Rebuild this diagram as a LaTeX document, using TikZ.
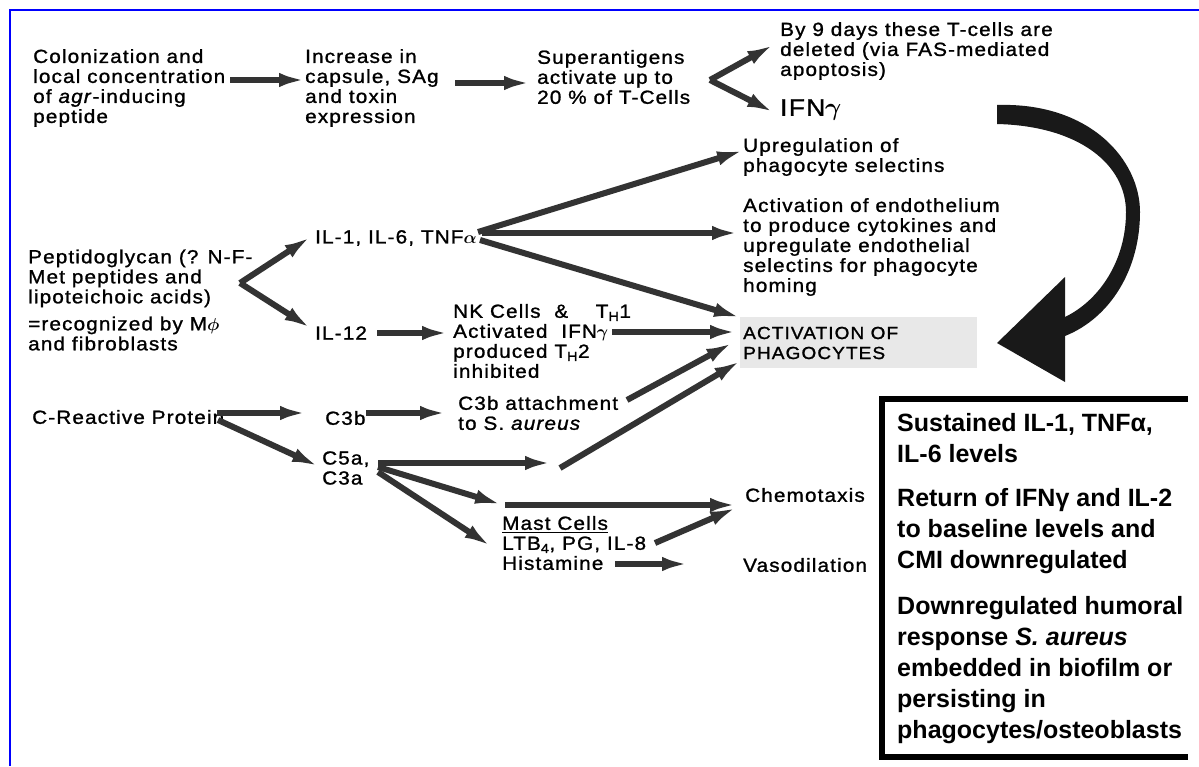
\documentclass[tikz,border=0pt]{standalone}
\usepackage{amsmath}
\usepackage{fontspec}
\setmainfont[FakeStretch=1.09,LetterSpace=6,FakeBold=1.2]{Liberation Sans}
\newfontfamily\bxfont{Liberation Sans}
\usetikzlibrary{arrows.meta}
\begin{document}
\begin{tikzpicture}[x=1pt,y=-1pt,
  txt/.style={anchor=west, inner sep=0pt, align=left, font=\fontsize{19}{20}\selectfont},
  arr/.style={draw=black!80, line width=6pt, -{Latex[length=28pt,width=14pt]}},
  frame/.style={draw=blue, line width=2.5pt},
  boxline/.style={draw=black, line width=6pt}]
\useasboundingbox (0,0) rectangle (1199,766);
\fill[white] (0,0) rectangle (1199,766);
\draw[frame] (10,766) -- (10,10) -- (1199,10);

% gray box
\fill[black!9] (740,317) rectangle (977,368);

% text nodes
\node[txt] (colon) at (33,88) {Colonization and\\ local concentration\\ of \textit{agr}-inducing\\ peptide};
\node[txt] (incr) at (305,88) {Increase in\\ capsule, SAg\\ and toxin\\ expression};
\node[txt] (super) at (537,77) {Superantigens\\ activate up to\\ 20 \% of T-Cells};
\node[txt] (byn) at (780,51) {By 9 days these T-cells are\\ deleted (via FAS-mediated\\ apoptosis)};
\node[txt, font=\fontsize{24}{26}\selectfont] (ifn) at (780,110) {IFN$\boldsymbol{\gamma}$};
\node[txt] (upreg) at (743,157) {Upregulation of\\ phagocyte selectins};
\node[txt] (actendo) at (743,247) {Activation of endothelium\\ to produce cytokines and\\ upregulate endothelial\\ selectins for phagocyte\\ homing};
\node[txt] (pepti) at (28,300) {Peptidoglycan (? N-F-\\ Met peptides and\\ lipoteichoic acids)\\[7pt] =recognized by M$\boldsymbol{\phi}$\\ and fibroblasts};
\node[txt] (il1) at (315,238) {IL-1, IL-6, TNF$\boldsymbol{\alpha}$};
\node[txt] (il12) at (315,333) {IL-12};
\node[txt] (nk) at (453,341) {NK Cells~~\&~~~~T\textsubscript{H}1\\ Activated~ IFN$\boldsymbol{\gamma}$\\ produced T\textsubscript{H}2\\ inhibited};
\node[txt, font=\fontsize{17.5}{20}\selectfont] (actphag) at (743,343) {ACTIVATION OF\\ PHAGOCYTES};
\node[txt] (crp) at (32,417) {C-Reactive Protein};
\node[txt] (c3b) at (325,418) {C3b};
\node[txt] (c3batt) at (458,413) {C3b attachment\\ to S. \textit{aureus}};
\node[txt] (c5a) at (322,468) {C5a,\\ C3a};
\node[txt] (mast) at (502,543) {\underline{Mast Cells}\\ LTB\textsubscript{4}, PG, IL-8\\ Histamine};
\node[txt] (chemo) at (745,495) {Chemotaxis};
\node[txt] (vaso) at (743,565) {Vasodilation};

% right box
\draw[boxline] (1188,399) -- (882,399) -- (882,757) -- (1188,757);
\node[anchor=north west, inner sep=0pt, align=left, font=\bxfont\bfseries\fontsize{25}{31}\selectfont] (sust) at (897,413)
 {Sustained IL-1, TNFα,\\ IL-6 levels\\[13pt] Return of IFNγ and IL-2\\ to baseline levels and\\ CMI downregulated\\[15pt] Downregulated humoral\\ response \textit{S. aureus}\\ embedded in biofilm or\\ persisting in\\ phagocytes/osteoblasts};

% curved feedback arrow
\fill[black!90] (997,105) .. controls (1090,102) and (1140,160) .. (1140,212)
  .. controls (1140,270) and (1110,318) .. (1065,336)
  -- (1065,382) -- (997,343) -- (1065,277) -- (1065,317)
  .. controls (1100,300) and (1126,260) .. (1126,212)
  .. controls (1126,165) and (1080,126) .. (997,124) -- cycle;

% connector coordinates
\coordinate (colon-o) at (230,80);   \coordinate (incr-i) at (307,80);
\coordinate (incr-o) at (455,83);    \coordinate (super-i) at (532,83);
\coordinate (super-o) at (710,80);   \coordinate (byn-i) at (775,44);  \coordinate (ifn-i) at (775,113);
\coordinate (pepti-o) at (240,283);  \coordinate (il1-i) at (312,236); \coordinate (il12-i) at (312,329);
\coordinate (il1-oa) at (478,232);   \coordinate (upreg-i) at (745,150);
\coordinate (il1-ob) at (482,233);   \coordinate (actendo-i) at (740,233);
\coordinate (il1-oc) at (480,240);   \coordinate (actphag-ia) at (742,318);
\coordinate (il12-o) at (377,333);   \coordinate (nk-i) at (450,333);
\coordinate (nk-o) at (612,332);     \coordinate (actphag-ib) at (738,332);
\coordinate (c3batt-o) at (627,400); \coordinate (actphag-ic) at (734,342);
\coordinate (relay1) at (560,468);   \coordinate (actphag-id) at (742,360);
\coordinate (crp-oa) at (217,413);   \coordinate (c3b-i) at (308,413);
\coordinate (c3b-o) at (366,413);    \coordinate (c3batt-i) at (448,413);
\coordinate (crp-ob) at (218,420);   \coordinate (c5a-i) at (320,467);
\coordinate (c5a-oa) at (378,463);   \coordinate (end1) at (553,463);
\coordinate (c5a-ob) at (378,467);   \coordinate (relay2i) at (503,505);
\coordinate (c5a-oc) at (378,472);   \coordinate (mast-i) at (492,547);
\coordinate (relay2) at (505,505);   \coordinate (chemo-ia) at (738,505);
\coordinate (mast-oa) at (655,543);  \coordinate (chemo-ib) at (738,507);
\coordinate (mast-ob) at (615,564);  \coordinate (end2) at (690,564);

\draw[arr] (colon-o) -- (incr-i);
\draw[arr] (incr-o) -- (super-i);
\draw[arr] (super-o) -- (byn-i);
\draw[arr] (super-o) -- (ifn-i);
\draw[arr] (pepti-o) -- (il1-i);
\draw[arr] (pepti-o) -- (il12-i);
\draw[arr] (il1-oa) -- (upreg-i);
\draw[arr] (il1-ob) -- (actendo-i);
\draw[arr] (il1-oc) -- (actphag-ia);
\draw[arr] (il12-o) -- (nk-i);
\draw[arr] (nk-o) -- (actphag-ib);
\draw[arr] (c3batt-o) -- (actphag-ic);
\draw[arr] (relay1) -- (actphag-id);
\draw[arr] (crp-oa) -- (c3b-i);
\draw[arr] (c3b-o) -- (c3batt-i);
\draw[arr] (crp-ob) -- (c5a-i);
\draw[arr] (c5a-oa) -- (end1);
\draw[arr] (c5a-ob) -- (relay2i);
\draw[arr] (c5a-oc) -- (mast-i);
\draw[arr] (relay2) -- (chemo-ia);
\draw[arr] (mast-oa) -- (chemo-ib);
\draw[arr] (mast-ob) -- (end2);
\end{tikzpicture}
\end{document}
